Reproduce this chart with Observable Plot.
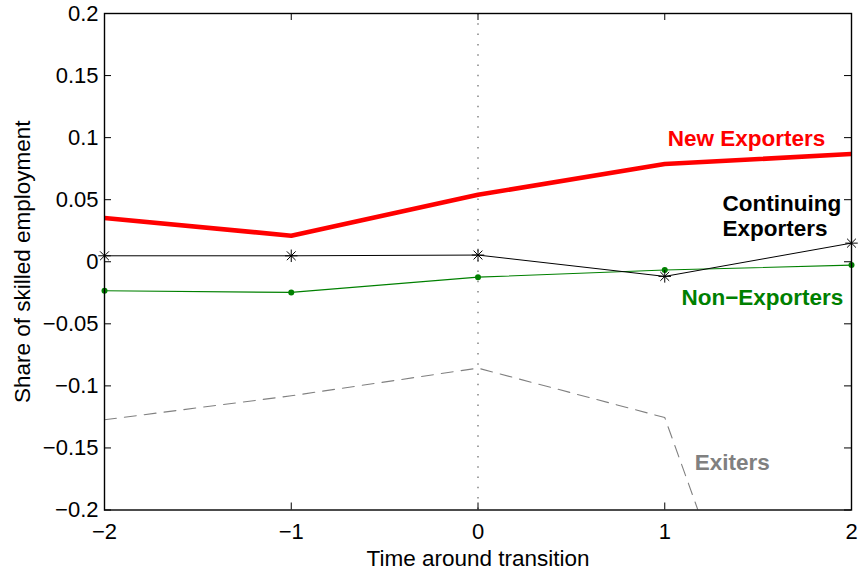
<!DOCTYPE html>
<html>
<head>
<meta charset="utf-8">
<script src="https://cdn.jsdelivr.net/npm/d3@7"></script>
<script src="https://cdn.jsdelivr.net/npm/@observablehq/plot@0.6"></script>
<style>
  html, body { margin: 0; padding: 0; background: #fff; }
</style>
</head>
<body>
<div id="chart"></div>
<script>
// ---- data ----
const periods = [-2, -1, 0, 1, 2];
const newExporters = [0.0352, 0.0210, 0.0540, 0.0787, 0.0868];
const continuingExporters = [0.0048, 0.0048, 0.0054, -0.0118, 0.0150];
const nonExporters = [-0.0234, -0.0247, -0.0124, -0.0067, -0.0027];
const exiters = [-0.1273, -0.1080, -0.0857, -0.1255, -0.5450];

const xTicks = [-2, -1, 0, 1, 2];
const yTicks = [-0.2, -0.15, -0.1, -0.05, 0, 0.05, 0.1, 0.15, 0.2];
const seriesNames = ["New Exporters", "Continuing\nExporters", "Non\u2212Exporters", "Exiters"];
const xLabel = "Time around transition";
const yLabel = "Share of skilled employment";

const rows = (vals) => periods.map((p, i) => ({x: p, y: vals[i]}));

const W = 861, H = 573;
const mL = 104, mR = 10, mT = 13, mB = 63.5;
const frameW = W - mL - mR, frameH = H - mT - mB;
const tickLen = 7;

const chart = Plot.plot({
  width: W,
  height: H,
  marginLeft: mL,
  marginRight: mR,
  marginTop: mT,
  marginBottom: mB,
  style: {fontFamily: "'Liberation Sans', Arial, Helvetica, sans-serif", fontSize: "22px", background: "#fff", color: "#000"},
  x: {domain: [-2, 2]},
  y: {domain: [-0.2, 0.2]},
  marks: [
    // zero-time dotted marker
    Plot.ruleX([0], {stroke: "#666", strokeWidth: 1.2, strokeDasharray: "1.5,8.8"}),
    // series
    Plot.line(rows(exiters), {x: "x", y: "y", stroke: "#808080", strokeWidth: 1.1, strokeDasharray: "12,8", clip: true}),
    Plot.line(rows(nonExporters), {x: "x", y: "y", stroke: "#008000", strokeWidth: 1.1, clip: true}),
    Plot.dot(rows(nonExporters), {x: "x", y: "y", r: 3, fill: "#008000", stroke: "none"}),
    Plot.line(rows(continuingExporters), {x: "x", y: "y", stroke: "#000", strokeWidth: 1, clip: true}),
    Plot.dot(rows(continuingExporters), {x: "x", y: "y", r: 4.1, symbol: "plus", stroke: "#000", fill: "none", strokeWidth: 1}),
    Plot.dot(rows(continuingExporters), {x: "x", y: "y", r: 4.1, symbol: "times", stroke: "#000", fill: "none", strokeWidth: 1}),
    Plot.line(rows(newExporters), {x: "x", y: "y", stroke: "#ff0000", strokeWidth: 4.6, clip: true}),
    // series labels
    Plot.text([seriesNames[0]], {x: 1.438, y: 0.0991, text: d => d, fill: "#ff0000", fontWeight: "bold", fontSize: 22.5, textAnchor: "middle"}),
    Plot.text([seriesNames[1]], {x: 1.309, y: 0.0375, text: d => d, fill: "#000", fontWeight: "bold", fontSize: 22.5, textAnchor: "start", lineHeight: 1.12}),
    Plot.text([seriesNames[2]], {x: 1.523, y: -0.029, text: d => d, fill: "#008000", fontWeight: "bold", fontSize: 22.5, textAnchor: "middle"}),
    Plot.text([seriesNames[3]], {x: 1.361, y: -0.162, text: d => d, fill: "#808080", fontWeight: "bold", fontSize: 22.5, textAnchor: "middle"}),
    // inside ticks on all four sides
    Plot.tickY(yTicks, {y: d => d, insetRight: frameW - tickLen, stroke: "#000", strokeWidth: 1}),
    Plot.tickY(yTicks, {y: d => d, insetLeft: frameW - tickLen, stroke: "#000", strokeWidth: 1}),
    Plot.tickX(xTicks, {x: d => d, insetTop: frameH - tickLen, stroke: "#000", strokeWidth: 1}),
    Plot.tickX(xTicks, {x: d => d, insetBottom: frameH - tickLen, stroke: "#000", strokeWidth: 1}),
    // axes
    Plot.axisX({ticks: xTicks, tickSize: 0, tickPadding: 13, tickFormat: d3.format(""), label: null}),
    Plot.axisY({ticks: yTicks, tickSize: 0, tickPadding: 6, tickFormat: d3.format(""), label: null}),
    Plot.text([xLabel], {frameAnchor: "bottom", dy: 48.5, lineAnchor: "middle", textAnchor: "middle", fontSize: 22.5, text: d => d, fill: "#000"}),
    Plot.text([yLabel], {frameAnchor: "left", dx: -82, rotate: -90, lineAnchor: "middle", textAnchor: "middle", fontSize: 22.5, text: d => d, fill: "#000"}),
    Plot.frame({stroke: "#000", strokeWidth: 1.4})
  ]
});

document.getElementById("chart").appendChild(chart);
</script>
</body>
</html>
